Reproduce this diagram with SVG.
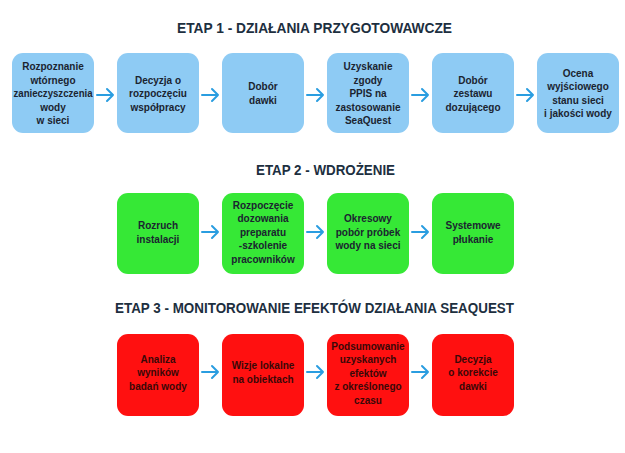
<svg xmlns="http://www.w3.org/2000/svg" width="625" height="453" viewBox="0 0 625 453">
<defs>
<style>
.title{font-family:"Liberation Sans",Arial,sans-serif;font-weight:bold;font-size:14px;fill:#1d2f3f;text-anchor:middle}
.t{font-family:"Liberation Sans",Arial,sans-serif;font-weight:bold;font-size:10px;fill:#1b2430;text-anchor:middle}
.tr{fill:#3a0808}
.blue{fill:#8ecbf4}
.green{fill:#36e836}
.red{fill:#ff1010}
.arr{fill:none;stroke:#2a9de0;stroke-width:2;stroke-linecap:round;stroke-linejoin:round}
</style>
</defs>
<rect width="625" height="453" fill="#ffffff"/>
<text class="title" x="314.5" y="33" textLength="275" lengthAdjust="spacingAndGlyphs">ETAP 1 - DZIAŁANIA PRZYGOTOWAWCZE</text>
<text class="title" x="325.5" y="175" textLength="139" lengthAdjust="spacingAndGlyphs">ETAP 2 - WDROŻENIE</text>
<text class="title" x="314.5" y="313" textLength="399" lengthAdjust="spacingAndGlyphs">ETAP 3 - MONITOROWANIE EFEKTÓW DZIAŁANIA SEAQUEST</text>

<g id="n1-1"><rect class="blue" x="12" y="53" width="82" height="80" rx="11"/>
<text class="t" x="53" y="70">Rozpoznanie</text><text class="t" x="53" y="83.5">wtórnego</text><text class="t" x="53" y="97" textLength="79" lengthAdjust="spacingAndGlyphs">zanieczyszczenia</text><text class="t" x="53" y="110.5">wody</text><text class="t" x="53" y="124">w sieci</text></g>
<g id="n1-2"><rect class="blue" x="117" y="53" width="82" height="80" rx="11"/>
<text class="t" x="158" y="83.5">Decyzja o</text><text class="t" x="158" y="97">rozpoczęciu</text><text class="t" x="158" y="110.5">współpracy</text></g>
<g id="n1-3"><rect class="blue" x="222" y="53" width="82" height="80" rx="11"/>
<text class="t" x="263" y="90">Dobór</text><text class="t" x="263" y="103.5">dawki</text></g>
<g id="n1-4"><rect class="blue" x="327" y="53" width="82" height="80" rx="11"/>
<text class="t" x="368" y="70">Uzyskanie</text><text class="t" x="368" y="83.5">zgody</text><text class="t" x="368" y="97">PPIS na</text><text class="t" x="368" y="110.5">zastosowanie</text><text class="t" x="368" y="124">SeaQuest</text></g>
<g id="n1-5"><rect class="blue" x="432" y="53" width="82" height="80" rx="11"/>
<text class="t" x="473" y="83.5">Dobór</text><text class="t" x="473" y="97">zestawu</text><text class="t" x="473" y="110.5">dozującego</text></g>
<g id="n1-6"><rect class="blue" x="537" y="53" width="82" height="80" rx="11"/>
<text class="t" x="578" y="76.5">Ocena</text><text class="t" x="578" y="90">wyjściowego</text><text class="t" x="578" y="103.5">stanu sieci</text><text class="t" x="578" y="117">i jakości wody</text></g>

<g id="n2-1"><rect class="green" x="117" y="193" width="82" height="81" rx="11"/>
<text class="t" x="158" y="229">Rozruch</text><text class="t" x="158" y="242.5">instalacji</text></g>
<g id="n2-2"><rect class="green" x="222" y="193" width="82" height="81" rx="11"/>
<text class="t" x="263" y="208.5">Rozpoczęcie</text><text class="t" x="263" y="222">dozowania</text><text class="t" x="263" y="235.5">preparatu</text><text class="t" x="263" y="249">-szkolenie</text><text class="t" x="263" y="262.5">pracowników</text></g>
<g id="n2-3"><rect class="green" x="327" y="193" width="82" height="81" rx="11"/>
<text class="t" x="368" y="222">Okresowy</text><text class="t" x="368" y="235.5">pobór próbek</text><text class="t" x="368" y="249">wody na sieci</text></g>
<g id="n2-4"><rect class="green" x="432" y="193" width="82" height="81" rx="11"/>
<text class="t" x="473" y="229">Systemowe</text><text class="t" x="473" y="242.5">płukanie</text></g>

<g id="n3-1"><rect class="red" x="117" y="334" width="82" height="82" rx="11"/>
<text class="t tr" x="158" y="362.5">Analiza</text><text class="t tr" x="158" y="376">wyników</text><text class="t tr" x="158" y="389.5">badań wody</text></g>
<g id="n3-2"><rect class="red" x="222" y="334" width="82" height="82" rx="11"/>
<text class="t tr" x="263" y="369">Wizje lokalne</text><text class="t tr" x="263" y="382.5">na obiektach</text></g>
<g id="n3-3"><rect class="red" x="327" y="334" width="82" height="82" rx="11"/>
<text class="t tr" x="368" y="349.5">Podsumowanie</text><text class="t tr" x="368" y="363">uzyskanych</text><text class="t tr" x="368" y="376.5">efektów</text><text class="t tr" x="368" y="390">z określonego</text><text class="t tr" x="368" y="403.5">czasu</text></g>
<g id="n3-4"><rect class="red" x="432" y="334" width="82" height="82" rx="11"/>
<text class="t tr" x="473" y="362.5">Decyzja</text><text class="t tr" x="473" y="376">o korekcie</text><text class="t tr" x="473" y="389.5">dawki</text></g>

<g id="connectors" class="arr">
<path d="M97 95H113M107 89L113 95L107 101"/>
<path d="M202 95H218M212 89L218 95L212 101"/>
<path d="M307 95H323M317 89L323 95L317 101"/>
<path d="M412 95H428M422 89L428 95L422 101"/>
<path d="M517 95H533M527 89L533 95L527 101"/>
<path d="M202 232H218M212 226L218 232L212 238"/>
<path d="M307 232H323M317 226L323 232L317 238"/>
<path d="M412 232H428M422 226L428 232L422 238"/>
<path d="M202 372H218M212 366L218 372L212 378"/>
<path d="M307 372H323M317 366L323 372L317 378"/>
<path d="M412 372H428M422 366L428 372L422 378"/>
</g>
</svg>
